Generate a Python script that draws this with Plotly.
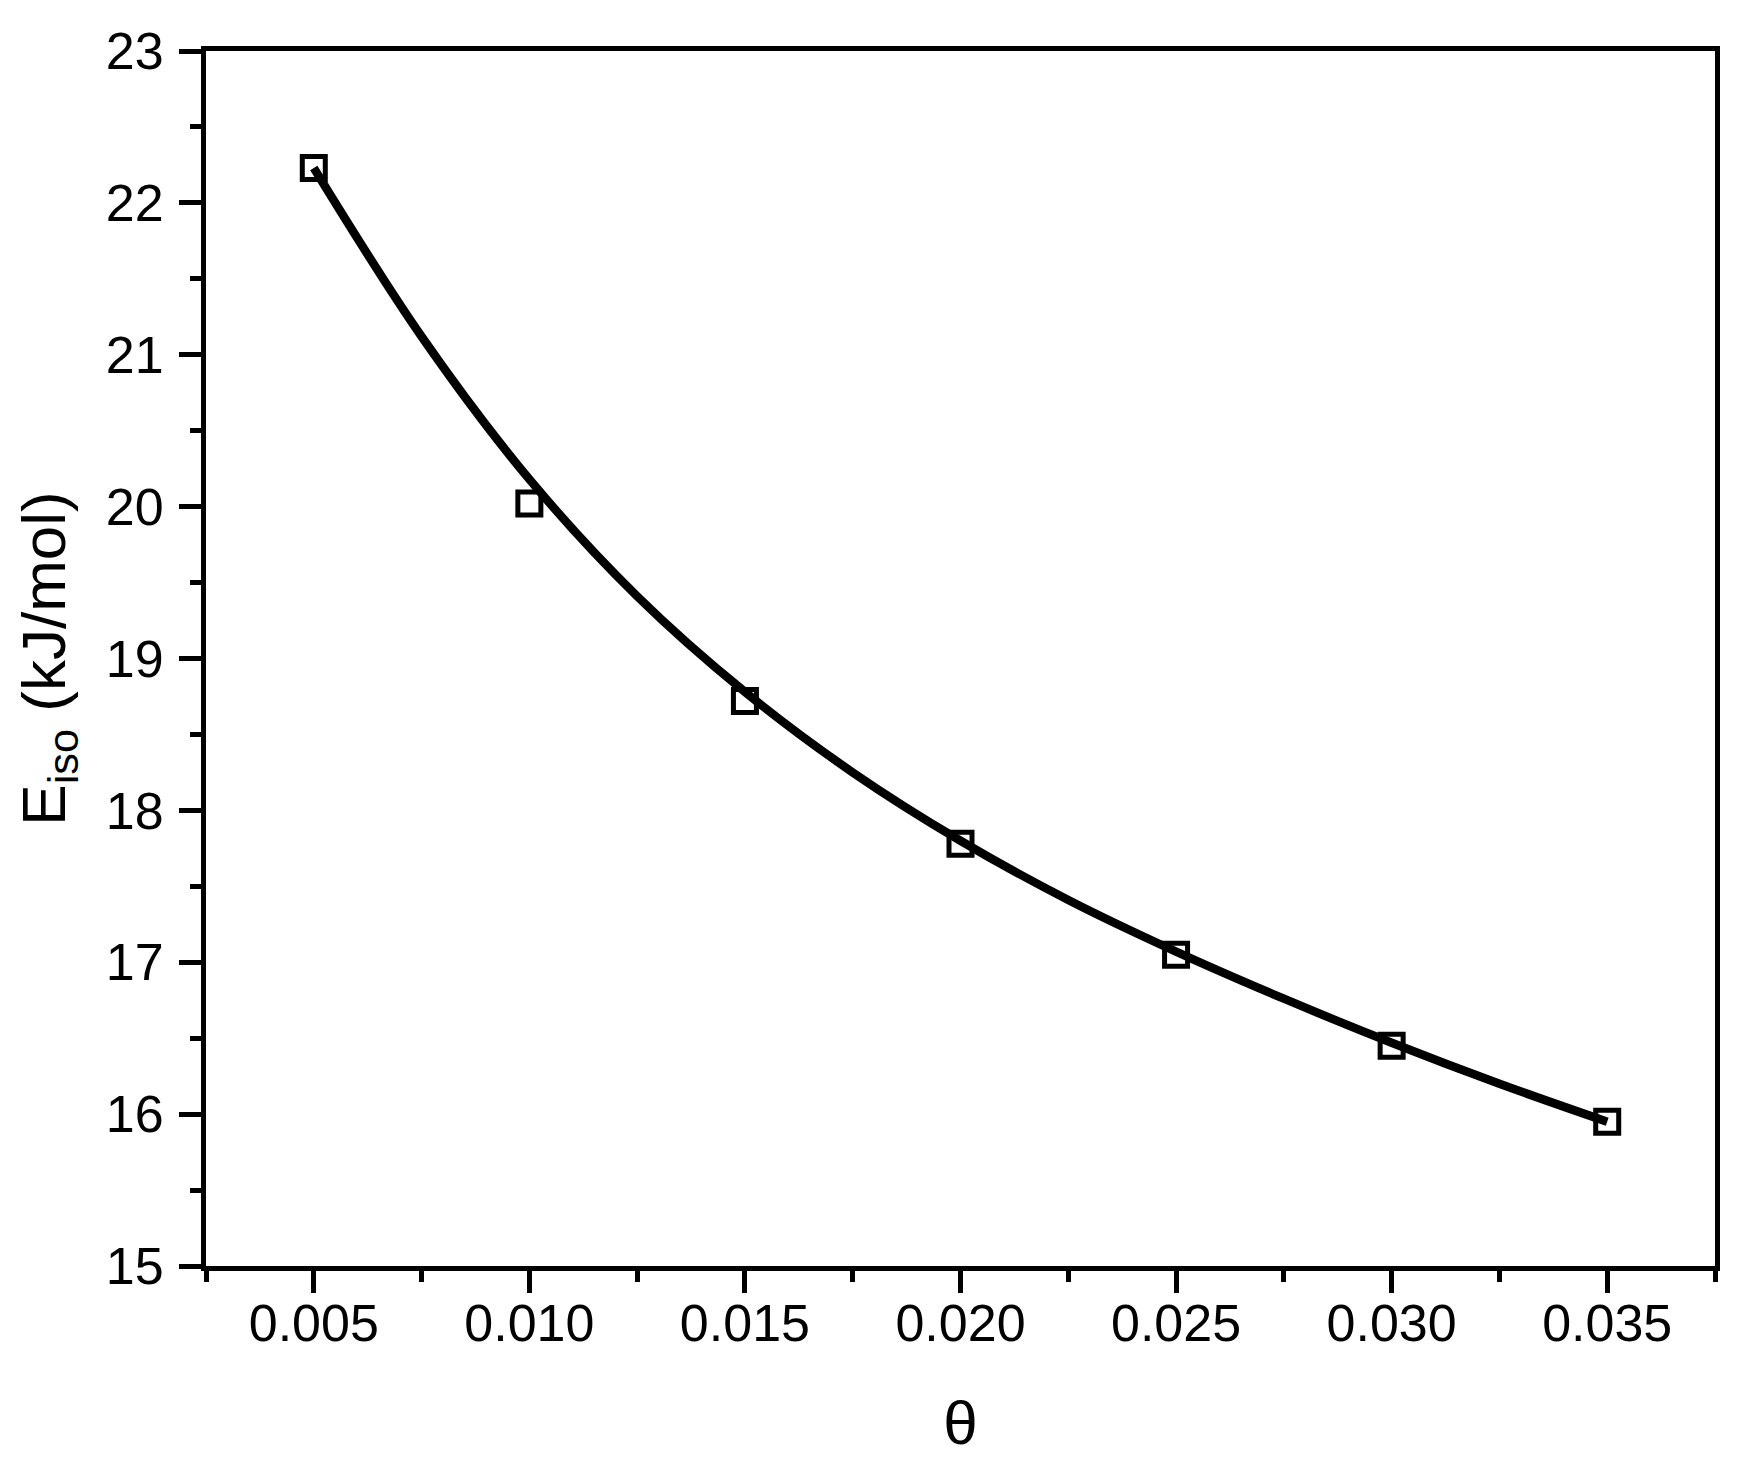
import plotly.graph_objects as go

# Measured data points
theta = [0.005, 0.010, 0.015, 0.020, 0.025, 0.030, 0.035]
e_iso = [22.23, 20.02, 18.72, 17.78, 17.05, 16.45, 15.95]

# Fitted curve
theta_fit = [0.005, 0.0075, 0.010, 0.0125, 0.015, 0.0175, 0.020, 0.0225, 0.025, 0.0275, 0.030, 0.0325, 0.035]
e_fit = [22.23, 21.12, 20.18, 19.41, 18.78, 18.25, 17.80, 17.41, 17.07, 16.76, 16.47, 16.20, 15.95]

x_ticks = [0.005, 0.010, 0.015, 0.020, 0.025, 0.030, 0.035]
x_ticktext = ["0.005", "0.010", "0.015", "0.020", "0.025", "0.030", "0.035"]
y_ticks = [15, 16, 17, 18, 19, 20, 21, 22, 23]

FONT = "Liberation Sans, Arial, sans-serif"

fig = go.Figure()
fig.add_trace(go.Scatter(
    x=theta, y=e_iso, mode="markers",
    marker=dict(symbol="square-open", size=23, color="black",
                line=dict(width=5, color="black")),
    showlegend=False, hoverinfo="skip",
))
fig.add_trace(go.Scatter(
    x=theta_fit, y=e_fit, mode="lines",
    line=dict(color="black", width=8.5, shape="spline", smoothing=1.0),
    showlegend=False,
))

axis_common = dict(
    showline=True, linecolor="black", linewidth=5, mirror=True,
    ticks="outside", ticklen=22, tickwidth=5, tickcolor="black",
    showgrid=False, zeroline=False,
    tickfont=dict(family=FONT, size=52, color="black"),
)

fig.update_xaxes(
    **axis_common,
    range=[0.0025, 0.0375],
    tickvals=x_ticks, ticktext=x_ticktext,
    ticklabelstandoff=-14,
    minor=dict(dtick=0.0025, tick0=0.0025, ticks="outside", ticklen=11, tickwidth=5, tickcolor="black"),
    title=dict(text="θ", font=dict(family=FONT, size=62, color="black"), standoff=51),
)
fig.update_yaxes(
    **axis_common,
    range=[15, 23],
    tickvals=y_ticks,
    ticklabelstandoff=5,
    minor=dict(dtick=0.5, tick0=15, ticks="outside", ticklen=11, tickwidth=5, tickcolor="black"),
    title=dict(text="E<sub>iso</sub> (kJ/mol)", font=dict(family=FONT, size=62, color="black"), standoff=22),
)

fig.update_layout(
    width=1748, height=1462,
    margin=dict(l=198, r=41, t=43, b=204, pad=0),
    plot_bgcolor="white", paper_bgcolor="white",
    font=dict(family=FONT, color="black"),
)

fig.write_html("out.html")
